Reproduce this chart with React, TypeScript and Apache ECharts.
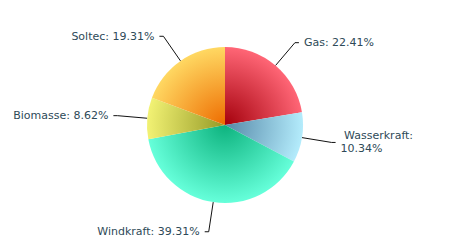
import React, { useEffect, useRef } from "react";
import * as echarts from "echarts";

const categories = ["Gas", "Wasserkraft", "Windkraft", "Biomasse", "Soltec"];
const values = [22.41, 10.34, 39.31, 8.62, 19.31];
const innerColors = ["#a4000c", "#5588a8", "#0db37e", "#959a26", "#ee6c00"];
const outerColors = ["#ff6676", "#b4ecfc", "#66ffda", "#f2f274", "#ffd862"];

const CX = 225;
const CY = 125;
const R = 78;

export default function App() {
  const ref = useRef<HTMLDivElement>(null);
  useEffect(() => {
    if (!ref.current) return;
    const chart = echarts.init(ref.current, undefined, { renderer: "svg" });
    const data = categories.map((name, i) => ({
      name,
      value: values[i],
      itemStyle: {
        color: {
          type: "radial",
          x: CX,
          y: CY,
          r: R,
          global: true,
          colorStops: [
            { offset: 0, color: innerColors[i] },
            { offset: 1, color: outerColors[i] },
          ],
        },
      },
      label: name === "Wasserkraft" ? { formatter: " {b}:\n{c}%", lineHeight: 13 } : undefined,
    }));
    chart.setOption({
      animation: false,
      series: [
        {
          type: "pie",
          center: [CX, CY],
          radius: R,
          startAngle: 90,
          clockwise: true,
          avoidLabelOverlap: false,
          data,
          itemStyle: { borderWidth: 0 },
          label: {
            formatter: "{b}: {c}%",
            color: "#2e4a58",
            fontFamily: "DejaVu Sans",
            fontSize: 11,
            distanceToLabelLine: 5,
          },
          labelLine: {
            length: 30,
            length2: 4,
            lineStyle: { color: "#111", width: 1 },
          },
          emphasis: { disabled: true },
        },
      ],
    });
    return () => chart.dispose();
  }, []);
  return <div ref={ref} style={{ width: 450, height: 250, position: "absolute", left: 0, top: 0 }} />;
}
